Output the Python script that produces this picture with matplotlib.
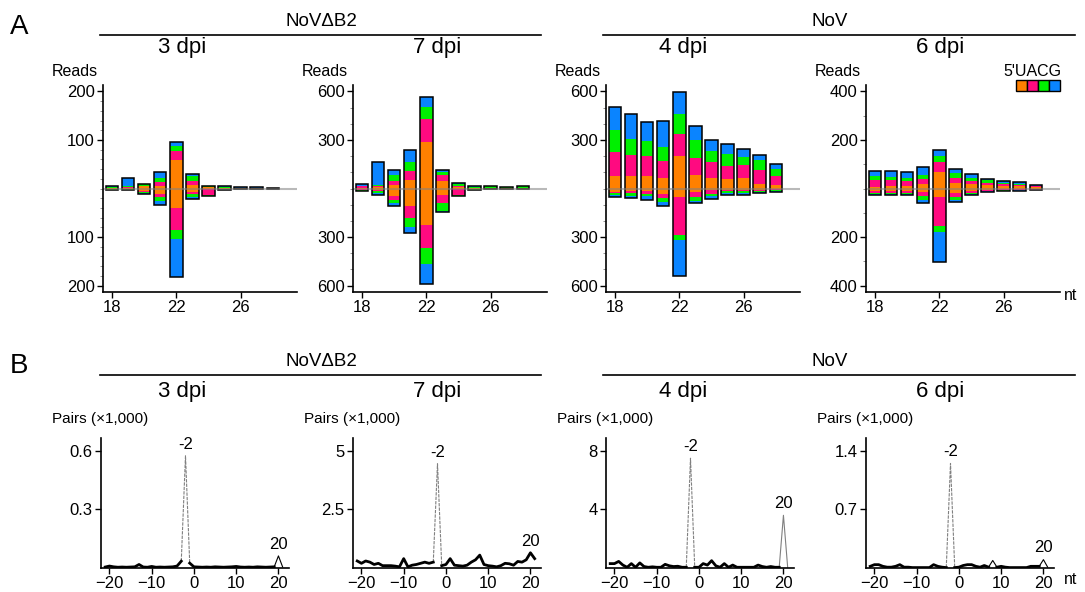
import numpy as np
import matplotlib
matplotlib.use("Agg")
import matplotlib.pyplot as plt
from matplotlib.lines import Line2D
from matplotlib.patches import Rectangle

plt.rcParams['font.family'] = ['Liberation Sans', 'DejaVu Sans']

# ---- panel A data: reads per length, rows = 5' U, A, C, G ----
lengths = list(range(18, 29))
nt_colors = ['#ff8000', '#ff0a80', '#00f000', '#0a84ff']

b2_3dpi_up = [[1, 2, 5, 6, 59, 8, 3, 1, 0.5, 0.5, 0.5],
              [1, 1, 1, 8, 19, 7, 1, 1, 0.5, 0.5, 0.5],
              [2, 2, 3, 7, 9, 11, 1, 2, 0.5, 1, 0.5],
              [1, 16, 1, 12, 9, 3, 0.5, 1, 1, 0.5, 0.5]]
b2_3dpi_down = [[1, 1, 5, 12, 41, 7, 1, 0.5, 0.5, 0.5, 0.5],
                [1, 1, 2, 6, 44, 5, 13, 0.5, 0.5, 0.5, 0.5],
                [0.5, 0.5, 2, 7, 19, 6, 0.5, 1, 0.5, 0.5, 0.5],
                [0.5, 0.5, 2, 10, 79, 4, 0.5, 0.5, 0.5, 0.5, 0.5]]

b2_7dpi_up = [[5, 8, 23, 54, 290, 48, 8, 2, 3, 2, 3],
              [8, 8, 25, 54, 139, 35, 10, 2, 3, 4, 3],
              [4, 8, 33, 54, 77, 21, 10, 8, 8, 2, 7],
              [8, 137, 31, 77, 58, 12, 5, 2, 4, 2, 3]]
b2_7dpi_down = [[5, 8, 48, 110, 226, 41, 5, 2, 2, 1, 2],
                [6, 10, 23, 72, 143, 48, 35, 2, 2, 1, 2],
                [3, 12, 21, 54, 99, 50, 4, 3, 1, 1, 1],
                [3, 8, 16, 39, 122, 4, 4, 1, 1, 1, 1]]

nov_4dpi_up = [[75, 78, 78, 63, 203, 84, 67, 61, 63, 29, 23],
               [153, 128, 124, 107, 134, 105, 96, 80, 84, 84, 52],
               [134, 103, 92, 86, 126, 111, 67, 75, 48, 61, 48],
               [140, 153, 115, 164, 132, 86, 73, 59, 52, 36, 27]]
nov_4dpi_down = [[21, 15, 17, 31, 50, 23, 12, 8, 10, 8, 6],
                 [8, 15, 17, 25, 235, 29, 20, 10, 8, 6, 5],
                 [10, 15, 15, 29, 34, 27, 17, 12, 10, 8, 5],
                 [15, 12, 21, 25, 224, 10, 14, 10, 10, 5, 3]]

nov_6dpi_up = [[8, 11, 11, 19, 68, 22, 18, 14, 10, 9, 5],
               [26, 25, 21, 21, 40, 23, 14, 10, 8, 6, 4],
               [18, 12, 12, 17, 28, 18, 12, 9, 6, 5, 3],
               [21, 25, 25, 33, 23, 17, 14, 8, 6, 5, 2]]
nov_6dpi_down = [[10, 10, 10, 14, 33, 17, 10, 5, 4, 3, 3],
                 [7, 7, 7, 17, 121, 18, 7, 4, 3, 3, 2],
                 [5, 5, 5, 15, 26, 14, 5, 3, 2, 2, 2],
                 [6, 6, 6, 14, 124, 7, 6, 3, 2, 2, 1]]

a_panels = [(b2_3dpi_up, b2_3dpi_down, 200),
            (b2_7dpi_up, b2_7dpi_down, 600),
            (nov_4dpi_up, nov_4dpi_down, 600),
            (nov_6dpi_up, nov_6dpi_down, 400)]

# ---- panel B data: overlap pairs (x1,000) by offset ----
offsets = list(range(-21, 22))
pairs_b2_3dpi = [0.005, 0.01, 0.006, 0.004, 0.005, 0.004, 0.005, 0.006, 0.018, 0.005, 0.004,
                 0.008, 0.004, 0.005, 0.004, 0.005, 0.006, 0.01, 0.035, 0.575, 0.025, 0.006,
                 0.005, 0.004, 0.005, 0.004, 0.006, 0.005, 0.004, 0.005, 0.006, 0.008, 0.005,
                 0.004, 0.005, 0.004, 0.006, 0.005, 0.004, 0.005, 0.006, 0.062, 0.005]
pairs_b2_7dpi = [0.3, 0.2, 0.3, 0.25, 0.15, 0.2, 0.1, 0.1, 0.1, 0.08, 0.05,
                 0.4, 0.05, 0.12, 0.15, 0.2, 0.25, 0.2, 0.25, 4.45, 0.1, 0.15,
                 0.4, 0.12, 0.1, 0.08, 0.12, 0.25, 0.35, 0.55, 0.15, 0.1, 0.08,
                 0.05, 0.1, 0.2, 0.18, 0.12, 0.28, 0.25, 0.35, 0.65, 0.4]
pairs_nov_4dpi = [0.3, 0.3, 0.45, 0.2, 0.05, 0.3, 0.05, 0.35, 0.1, 0.05, 0.08,
                  0.05, 0.05, 0.25, 0.15, 0.1, 0.12, 0.05, 0.05, 7.5, 0.05, 0.05,
                  0.3, 0.2, 0.5, 0.15, 0.05, 0.3, 0.05, 0.2, 0.05, 0.05, 0.05,
                  0.05, 0.05, 0.2, 0.1, 0.05, 0.1, 0.05, 0.05, 3.6, 0.05]
pairs_nov_6dpi = [0.02, 0.04, 0.04, 0.02, 0.01, 0.01, 0.02, 0.04, 0.01, 0.01, 0.005,
                  0.005, 0.005, 0.005, 0.005, 0.04, 0.02, 0.01, 0.005, 1.25, 0.005, 0.01,
                  0.03, 0.04, 0.04, 0.02, 0.01, 0.03, 0.01, 0.09, 0.01, 0.02, 0.01,
                  0.005, 0.005, 0.005, 0.005, 0.005, 0.02, 0.02, 0.02, 0.1, 0.01]

# peaks drawn thin: (offset, colour)
b_panels = [(pairs_b2_3dpi, 0.6, [(-2, 'gray'), (20, 'black')]),
            (pairs_b2_7dpi, 5, [(-2, 'gray')]),
            (pairs_nov_4dpi, 8, [(-2, 'gray'), (20, 'gray')]),
            (pairs_nov_6dpi, 1.4, [(-2, 'gray'), (8, 'black'), (20, 'black')])]
b_ticklabels = [['0.3', '0.6'], ['2.5', '5'], ['4', '8'], ['0.7', '1.4']]

dpi_titles = ['3 dpi', '7 dpi', '4 dpi', '6 dpi']
title_x = [182, 437, 683, 940]

W, H = 1085, 592
fig = plt.figure(figsize=(W / 100, H / 100), dpi=100)


def px_axes(left, top, width, height):
    return fig.add_axes([left / W, 1 - (top + height) / H, width / W, height / H])


def ftext(x, y, s, **kw):
    fig.text(x / W, 1 - y / H, s, **kw)


def fline(x0, x1, y):
    fig.add_artist(Line2D([x0 / W, x1 / W], [1 - y / H, 1 - y / H], color='black', lw=1.2))


def style(ax):
    for s in ['top', 'right']:
        ax.spines[s].set_visible(False)
    ax.spines['left'].set_linewidth(1.2)
    ax.spines['bottom'].set_linewidth(1.2)
    ax.tick_params(labelsize=12, width=1, length=4, pad=2)


lefts = [103, 353, 606, 866]

# ---- panel A ----
for i, (up, down, top) in enumerate(a_panels):
    ax = px_axes(lefts[i], 85, 194, 207)
    style(ax)
    x = np.array(lengths)
    bot = np.zeros(len(x))
    for vals, c in zip(up, nt_colors):
        ax.bar(x, vals, bottom=bot, width=0.78, color=c, lw=0)
        bot += np.array(vals)
    up_tot = bot.copy()
    bot = np.zeros(len(x))
    for vals, c in zip(down, nt_colors):
        ax.bar(x, -np.array(vals), bottom=-bot, width=0.78, color=c, lw=0)
        bot += np.array(vals)
    ax.bar(x, up_tot + bot, bottom=-bot, width=0.78, fill=False, edgecolor='black', lw=1.1)
    ax.axhline(0, color='gray', alpha=0.55, lw=1.5)
    ax.set_xlim(17.45, 29.5)
    ax.set_ylim(-top * 1.067, top * 1.067)
    ax.set_xticks([18, 22, 26])
    ax.set_yticks([-top, -top / 2, top / 2, top])
    ax.set_yticklabels([str(top), str(top // 2), str(top // 2), str(top)])
    ax.set_yticks(np.arange(-top, top + 1, top / 10 if top == 200 else 100), minor=True)
    ax.tick_params(which='minor', length=2, width=0.6, color='gray')
    ftext(lefts[i] - 51, 72, 'Reads', fontsize=11.5, va='center')
    ftext(title_x[i], 48, dpi_titles[i], fontsize=16, ha='center', va='center')

ftext(1032, 72, "5'UACG", fontsize=11.5, ha='center', va='center')
for k, c in enumerate(nt_colors):
    fig.add_artist(Rectangle(((1016 + k * 11) / W, 1 - 91 / H), 11 / W, 11 / H,
                             facecolor=c, edgecolor='black', lw=1))
ftext(1064, 296, 'nt', fontsize=11.5, va='center')

# ---- panel B ----
blefts = [101, 353, 606, 866]
for i, (vals, top, thin) in enumerate(b_panels):
    ax = px_axes(blefts[i], 438, 188, 130)
    style(ax)
    y = np.array(vals, dtype=float)
    xo = np.array(offsets)
    thick = y.copy()
    for pos, c in thin:
        j = offsets.index(pos)
        seg = slice(j - 1, j + 2)
        if c == 'gray' and pos == -2:
            ax.plot(xo[seg], y[seg], color=c, lw=0.8, ls='--', dashes=(3, 1))
        else:
            ax.plot(xo[seg], y[seg], color=c, lw=0.8)
        thick[j] = np.nan
    ax.plot(xo, thick, color='black', lw=2)
    ax.set_xlim(-22, 22.5)
    ax.set_ylim(0, top * 1.11)
    ax.set_xticks([-20, -10, 0, 10, 20])
    ax.set_yticks([top / 2, top])
    ax.set_yticklabels(b_ticklabels[i])
    ax.annotate('-2', (-2, y[offsets.index(-2)]), xytext=(0, 3), textcoords='offset points',
                ha='center', va='bottom', fontsize=12)
    ax.annotate('20', (20, y[offsets.index(20)]), xytext=(0, 3), textcoords='offset points',
                ha='center', va='bottom', fontsize=12)
    ftext(blefts[i] - 49, 419, 'Pairs (×1,000)', fontsize=11, va='center')
    ftext(title_x[i], 392, dpi_titles[i], fontsize=16, ha='center', va='center')
ftext(1064, 580, 'nt', fontsize=11.5, va='center')

# ---- headers ----
ftext(10, 27, 'A', fontsize=20, va='center')
ftext(10, 366, 'B', fontsize=20, va='center')
for y_txt, y_ln in [(22, 35), (362, 375)]:
    ftext(321, y_txt, 'NoVΔB2', fontsize=13.5, ha='center', va='center')
    ftext(830, y_txt, 'NoV', fontsize=13.5, ha='center', va='center')
    fline(100, 541, y_ln)
    fline(603, 1075, y_ln)

fig.savefig('out.png', dpi=100)
